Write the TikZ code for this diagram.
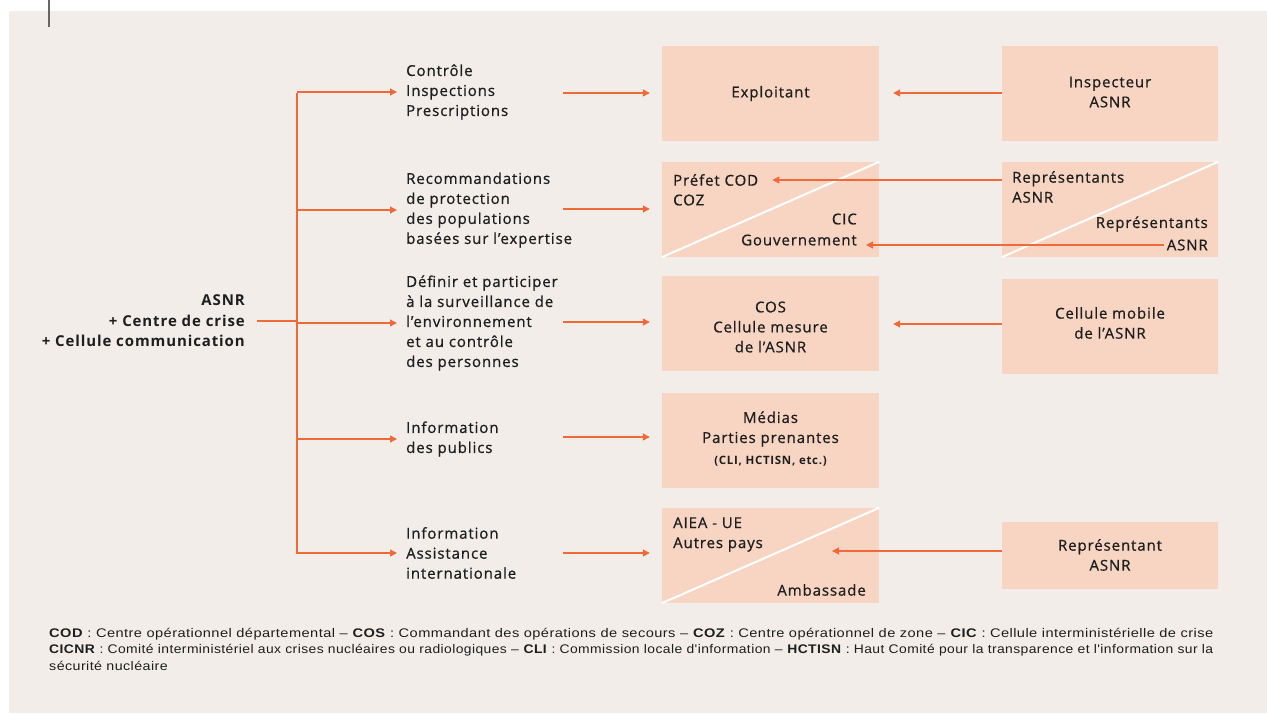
\documentclass[tikz,border=0pt]{standalone}
\usepackage{fontspec}
\setmainfont{Open Sans}[LetterSpace=6, UprightFeatures={FakeBold=0.8}]
\newfontfamily\footfont{Liberation Sans}[LetterSpace=3]
\usetikzlibrary{arrows.meta}
\definecolor{bg}{HTML}{F2EDE8}
\definecolor{boxc}{HTML}{F8D5C3}
\definecolor{org}{HTML}{F0693A}
\definecolor{txt}{HTML}{1E1E1E}
\newcommand{\fline}[1]{\resizebox{1164pt}{\height}{#1}}
\tikzset{
  lbl/.style={text=txt, inner sep=0pt, font=\fontsize{15}{20}\selectfont},
  mid/.style={lbl, anchor=west, align=left},
  pbox/.style={fill=boxc, draw=none, inner sep=0pt},
  wide/.style={pbox, minimum width=217pt, minimum height=95pt},
  diag/.style={white, line width=2pt},
  conn/.style={org, line width=1.2pt},
  arr/.style={conn, -{Triangle[length=7pt,width=7pt]}},
}
\begin{document}
\begin{tikzpicture}[x=1pt,y=-1pt]
\useasboundingbox (0,0) rectangle (1267,715);
\fill[bg] (9,11) rectangle (1267,713);
\coordinate (gt) at (49,0);
\coordinate (gb) at (49,27);
\draw[black!60, line width=1.3pt] (gt) -- (gb);

% left source
\node[lbl, anchor=east, align=right, font=\fontsize{15}{20.5}\selectfont\bfseries] (asnr) at (245,321) {ASNR\\+ Centre de crise\\+ Cellule communication};
\coordinate (hub) at (297,321);
\coordinate (ttop) at (297,93);
\coordinate (tbot) at (297,554);

% middle texts
\node[mid] (m1) at (406,92) {Contrôle\\Inspections\\Prescriptions};
\node[mid] (m2) at (406,210) {Recommandations\\de protection\\des populations\\basées sur l'expertise};
\node[mid] (m3) at (406,323) {Définir et participer\\à la surveillance de\\l'environnement\\et au contrôle\\des personnes};
\node[mid] (m4) at (406,439) {Information\\des publics};
\node[mid] (m5) at (406,553) {Information\\Assistance\\internationale};

% column 2 boxes
\node[wide] (b1) at (770.5,93.5) {};
\node[lbl] (b1t) at (b1) {Exploitant};
\node[wide] (b2) at (770.5,209.5) {};
\draw[diag] (b2.south west) -- (b2.north east);
\node[lbl, anchor=west] (pref) at (673,180) {Préfet COD};
\node[lbl, anchor=west] (coz) at (673,200) {COZ};
\node[lbl, anchor=east] (cic) at (857,219) {CIC};
\node[lbl, anchor=east] (gouv) at (857,240) {Gouvernement};
\node[wide] (b3) at (770.5,323.5) {};
\node[lbl, align=center] (b3t) at (770.5,327) {COS\\Cellule mesure\\de l'ASNR};
\node[wide] (b4) at (770.5,440.5) {};
\node[lbl, align=center] (b4t) at (770.5,429) {Médias\\Parties prenantes};
\node[lbl, font=\fontsize{11.5}{13}\selectfont\bfseries] (b4s) at (770.5,461) {(CLI, HCTISN, etc.)};
\node[wide] (b5) at (770.5,555.5) {};
\draw[diag] (b5.south west) -- (b5.north east);
\node[lbl, anchor=west, align=left] (aiea) at (673,534.5) {AIEA - UE\\Autres pays};
\node[lbl, anchor=east] (amb) at (866,590) {Ambassade};
\coordinate (t5) at (832,551);

% column 3 boxes
\node[pbox, minimum width=216pt, minimum height=95pt] (c1) at (1110,93.5) {};
\node[lbl, align=center] (c1t) at (1110,92) {Inspecteur\\ASNR};
\node[pbox, minimum width=216pt, minimum height=95pt] (c2) at (1110,209.5) {};
\draw[diag] (c2.south west) -- (c2.north east);
\node[lbl, anchor=west, align=left] (rep1) at (1012,187) {Représentants\\ASNR};
\node[lbl, anchor=east] (rep2a) at (1208,224) {Représentants};
\node[lbl, anchor=east] (rep2b) at (1208,245) {ASNR};
\node[pbox, minimum width=216pt, minimum height=95pt] (c3) at (1110,326.5) {};
\node[lbl, align=center] (c3t) at (1110,323) {Cellule mobile\\de l'ASNR};
\node[pbox, minimum width=216pt, minimum height=67pt] (c5) at (1110,555.5) {};
\node[lbl, align=center] (c5t) at (1110,555) {Représentant\\ASNR};

% connectors
\draw[conn] ([xshift=12pt]asnr.east |- hub) -- (hub);
\draw[conn] (ttop) -- (tbot);
\foreach \m in {m1,m2,m3,m4,m5}{
  \draw[arr, shorten >=9pt] (ttop |- \m.west) -- (\m.west);
}
\foreach \b/\yy in {b1/93,b2/209,b3/322,b4/437,b5/553}{
  \draw[arr, shorten >=12pt] ([xshift=-99pt]\b.west |- 0,\yy) -- (\b.west |- 0,\yy);
}
\draw[arr, shorten >=14pt] (c1.west |- 0,93) -- (b1.east |- 0,93);
\draw[arr, shorten >=14pt] (c3.west |- 0,324) -- (b3.east |- 0,324);
\draw[arr, shorten >=14pt] (c2.west |- pref.east) -- (pref.east);
\draw[arr, shorten <=3pt, shorten >=9pt] (rep2b.west) -- (gouv.east |- rep2b.west);
\draw[arr] (c5.west |- t5) -- (t5);

% footer
\node[anchor=north west, align=left, inner sep=0pt, text=txt, font=\footfont\fontsize{12.5}{16.5}\selectfont] (foot) at (49,628) {%
\fline{\textbf{COD} : Centre opérationnel départemental – \textbf{COS} : Commandant des opérations de secours – \textbf{COZ} : Centre opérationnel de zone – \textbf{CIC} : Cellule interministérielle de crise}\\
\fline{\textbf{CICNR} : Comité interministériel aux crises nucléaires ou radiologiques – \textbf{CLI} : Commission locale d'information – \textbf{HCTISN} : Haut Comité pour la transparence et l'information sur la}\\
\scalebox{1.14}[1]{sécurité nucléaire}};
\end{tikzpicture}
\end{document}
